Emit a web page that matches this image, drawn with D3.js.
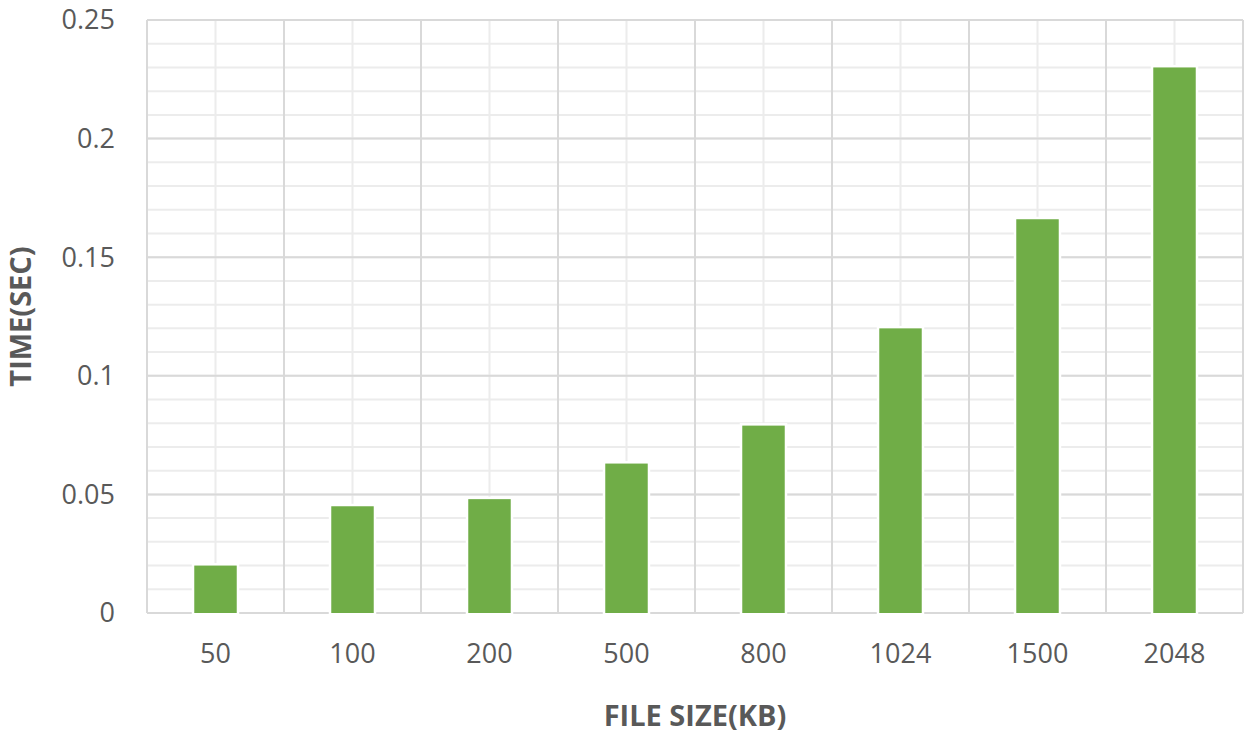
<!DOCTYPE html>
<html>
<head>
<meta charset="utf-8">
<script src="https://cdn.jsdelivr.net/npm/d3@7"></script>
<style>
  body { margin: 0; background: #fff; }
  text { font-family: "Open Sans", "Noto Sans", sans-serif; }
</style>
</head>
<body>
<script>
/**Data */
const fileSizes = ["50", "100", "200", "500", "800", "1024", "1500", "2048"];
const times = [0.02, 0.045, 0.048, 0.063, 0.079, 0.12, 0.166, 0.23];
const yTicks = [0, 0.05, 0.1, 0.15, 0.2, 0.25];
const yMinorTicks = d3.range(0, 0.2501, 0.01);

/**Layout */
const width = 1250;
const height = 739;
const margin = { left: 147, right: 7, top: 20, bottom: 126 };
const barColor = "#70ad47";

const svg = d3.select("body").append("svg")
  .attr("width", width)
  .attr("height", height);

const x = d3.scaleBand()
  .domain(fileSizes)
  .range([margin.left, width - margin.right]);

const y = d3.scaleLinear()
  .domain([0, 0.25])
  .range([height - margin.bottom, margin.top]);

// minor horizontal grid
svg.append("g").selectAll("line")
  .data(yMinorTicks)
  .join("line")
  .attr("x1", x.range()[0]).attr("x2", x.range()[1])
  .attr("y1", d => y(d)).attr("y2", d => y(d))
  .attr("stroke", "#ececec")
  .attr("stroke-width", 2);

// minor vertical grid (category centers)
svg.append("g").selectAll("line")
  .data(fileSizes)
  .join("line")
  .attr("x1", d => x(d) + x.bandwidth() / 2).attr("x2", d => x(d) + x.bandwidth() / 2)
  .attr("y1", y(0)).attr("y2", y(0.25))
  .attr("stroke", "#ececec")
  .attr("stroke-width", 2);

// major horizontal grid
svg.append("g").selectAll("line")
  .data(yTicks)
  .join("line")
  .attr("x1", x.range()[0]).attr("x2", x.range()[1])
  .attr("y1", d => y(d)).attr("y2", d => y(d))
  .attr("stroke", "#d9d9d9")
  .attr("stroke-width", 2);

// major vertical grid (category boundaries)
const bounds = fileSizes.map(d => x(d)).concat([x.range()[1]]);
svg.append("g").selectAll("line")
  .data(bounds)
  .join("line")
  .attr("x1", d => d).attr("x2", d => d)
  .attr("y1", y(0)).attr("y2", y(0.25))
  .attr("stroke", "#d9d9d9")
  .attr("stroke-width", 2);

// bars
const barW = x.bandwidth() * 0.31;
svg.append("g").selectAll("rect")
  .data(times)
  .join("rect")
  .attr("x", (d, i) => x(fileSizes[i]) + (x.bandwidth() - barW) / 2)
  .attr("y", d => y(d))
  .attr("width", barW)
  .attr("height", d => y(0) - y(d))
  .attr("fill", barColor)
  .attr("stroke", "#fff")
  .attr("stroke-width", 5)
  .style("paint-order", "stroke");

// y tick labels
svg.append("g").selectAll("text")
  .data(yTicks)
  .join("text")
  .attr("x", 115)
  .attr("y", d => y(d))
  .attr("dy", "0.35em")
  .attr("text-anchor", "end")
  .attr("font-size", "27px")
  .attr("fill", "#595959")
  .text(d => d);

// x tick labels
svg.append("g").selectAll("text")
  .data(fileSizes)
  .join("text")
  .attr("x", d => x(d) + x.bandwidth() / 2)
  .attr("y", 654)
  .attr("dy", "0.35em")
  .attr("text-anchor", "middle")
  .attr("font-size", "27px")
  .attr("fill", "#595959")
  .text(d => d);

// axis titles
svg.append("text")
  .attr("x", (x.range()[0] + x.range()[1]) / 2)
  .attr("y", 716)
  .attr("dy", "0.35em")
  .attr("text-anchor", "middle")
  .attr("font-size", "29px")
  .attr("font-weight", "bold")
  .attr("fill", "#595959")
  .text("FILE SIZE(KB)");

svg.append("text")
  .attr("transform", "translate(21," + ((y(0) + y(0.25)) / 2) + ") rotate(-90)")
  .attr("dy", "0.35em")
  .attr("text-anchor", "middle")
  .attr("font-size", "29px")
  .attr("font-weight", "bold")
  .attr("fill", "#595959")
  .text("TIME(SEC)");
</script>
</body>
</html>
